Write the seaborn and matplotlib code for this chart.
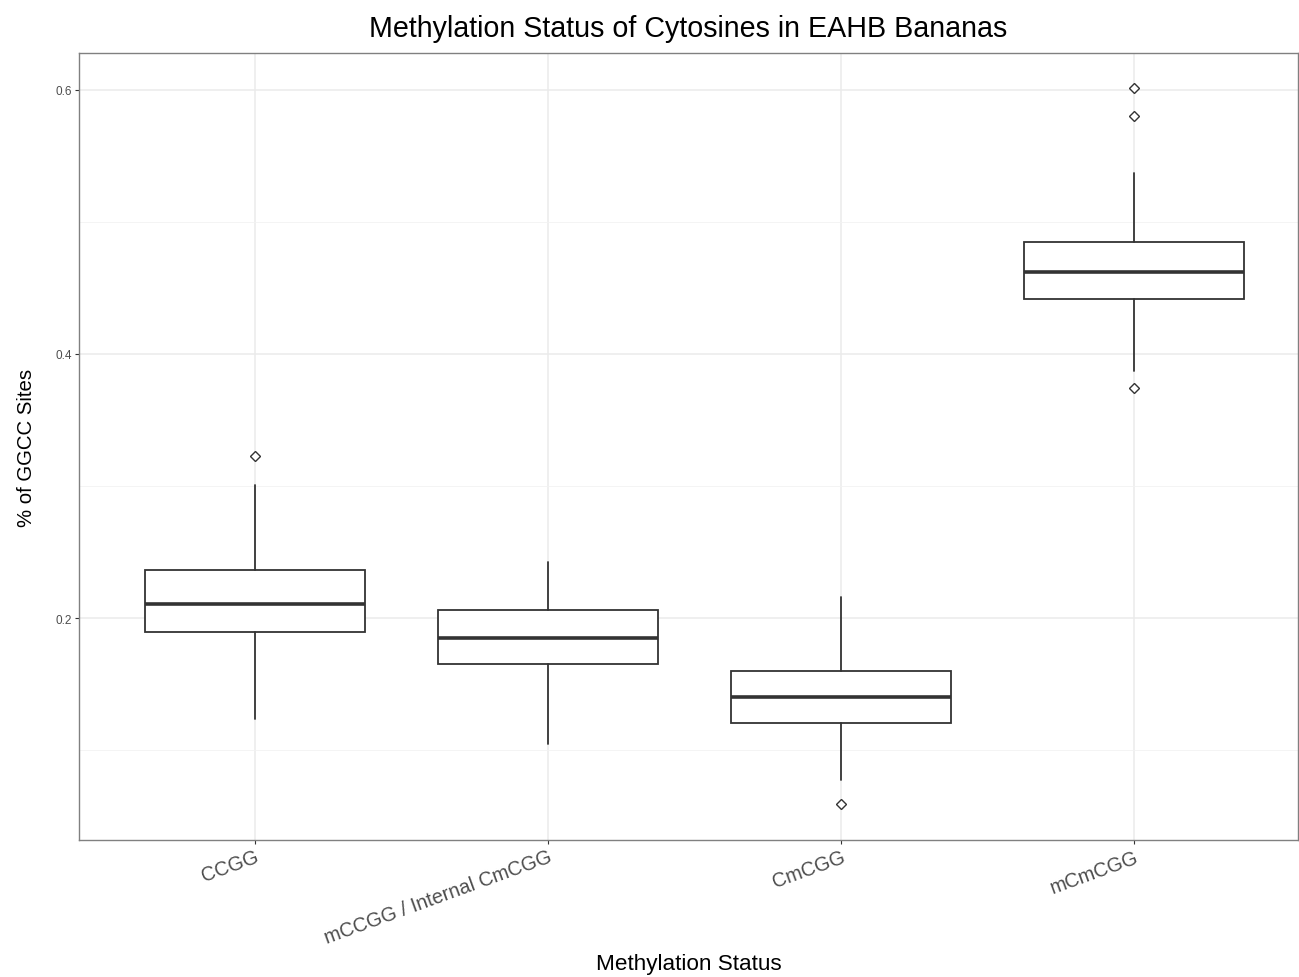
import numpy as np
import seaborn as sns
import matplotlib.pyplot as plt

# box statistics
categories = ['CCGG', 'mCCGG / Internal CmCGG', 'CmCGG', 'mCmCGG']
whislo = [0.1235, 0.1045, 0.0773, 0.3871]
q1 = [0.1894, 0.1652, 0.1205, 0.4417]
med = [0.2106, 0.1848, 0.1402, 0.4621]
q3 = [0.2364, 0.2061, 0.1598, 0.4848]
whishi = [0.3008, 0.2424, 0.2159, 0.5371]
outliers = [[0.3227], [], [0.0591], [0.6015, 0.5803, 0.3742]]

sns.set_theme(style='white')
plt.rcParams['font.family'] = ['Liberation Sans', 'DejaVu Sans']

fig = plt.figure(figsize=(12.99, 9.78), dpi=100)
ax = fig.add_axes([0.0608, 0.14, 0.9385, 0.8048])

stats = []
for i, c in enumerate(categories):
    stats.append(dict(label=c, whislo=whislo[i], q1=q1[i], med=med[i],
                      q3=q3[i], whishi=whishi[i], fliers=outliers[i]))

ax.bxp(stats, positions=range(len(categories)), widths=0.75,
       patch_artist=True, showcaps=False,
       boxprops=dict(facecolor='white', edgecolor='#333333', linewidth=1.3),
       whiskerprops=dict(color='#333333', linewidth=1.3),
       medianprops=dict(color='#333333', linewidth=2.6),
       flierprops=dict(marker='D', markersize=5, markerfacecolor='white',
                       markeredgecolor='#333333', markeredgewidth=1.0))

ax.set_xlim(-0.6, 3.56)
ax.set_ylim(0.0318, 0.628)
ax.set_yticks([0.2, 0.4, 0.6])
ax.set_yticklabels(['0.2', '0.4', '0.6'])
ax.set_yticks([0.1, 0.3, 0.5], minor=True)
ax.set_xticks(range(len(categories)))
ax.set_xticklabels(categories, rotation=20, ha='right', va='top',
                   rotation_mode='anchor', fontsize=14.3, color='#4d4d4d')

ax.grid(which='major', color='#ebebeb', linewidth=1.1)
ax.grid(which='minor', axis='y', color='#f2f2f2', linewidth=0.6)
ax.set_axisbelow(True)
for s in ax.spines.values():
    s.set_color('#808080')
    s.set_linewidth(1.0)

ax.tick_params(axis='y', which='major', labelsize=8.5, labelcolor='#4d4d4d',
               left=True, length=3, color='#333333', width=0.8, pad=2)
ax.tick_params(axis='y', which='minor', left=False)
ax.tick_params(axis='x', bottom=True, length=3, color='#333333', width=0.8, pad=2)

ax.set_xlabel('Methylation Status', fontsize=16.2, color='black')
ax.xaxis.set_label_coords(0.5, -0.143)
ax.set_ylabel('% of GGCC Sites', fontsize=14.7, color='black', labelpad=14)
ax.set_title('Methylation Status of Cytosines in EAHB Bananas', fontsize=20.6,
             color='black', pad=12)

fig.savefig('out.png', dpi=100)
